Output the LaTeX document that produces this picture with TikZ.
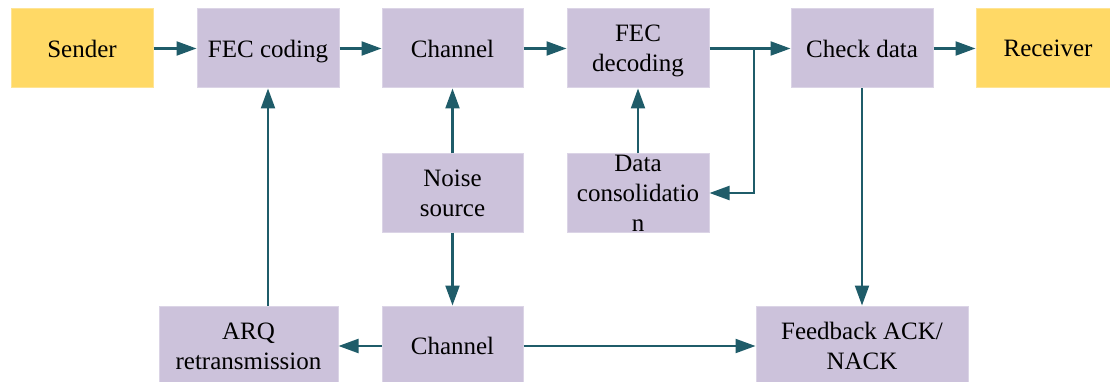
\documentclass[tikz,border=0pt]{standalone}
\usepackage{fontspec}
\setmainfont{Liberation Serif}
\usetikzlibrary{arrows.meta}
\definecolor{boxpurple}{HTML}{CCC2DB}
\definecolor{boxyellow}{HTML}{FFD966}
\definecolor{arrowteal}{HTML}{1F5C69}
\tikzset{
  basebox/.style={rectangle, inner sep=0pt, align=center,
    font=\fontsize{25}{30}\selectfont, text=black, line width=1pt,
    text depth=0pt},
  pbox/.style={basebox, fill=boxpurple, draw=boxpurple!70!white},
  ybox/.style={basebox, fill=boxyellow, draw=boxyellow!70!white},
  conn/.style={draw=arrowteal, line width=2.2pt,
    -{Triangle[length=20pt,width=14pt]}},
  plainconn/.style={draw=arrowteal, line width=2.2pt},
}
\begin{document}
\begin{tikzpicture}[x=1pt,y=-1pt]
\useasboundingbox (0,0) rectangle (1110,382);
% top row
\node[ybox, minimum width=142pt, minimum height=79pt] (sender) at (82,48.5) {Sender};
\node[pbox, minimum width=142pt, minimum height=79pt] (fec) at (268,48.5) {FEC coding};
\node[pbox, minimum width=141pt, minimum height=79pt] (ch1) at (452.5,48.5) {Channel};
\node[pbox, minimum width=142pt, minimum height=79pt] (dec) at (638,48.5) {FEC\\decoding};
\node[pbox, minimum width=142pt, minimum height=79pt] (check) at (862,48.5) {Check data};
\node[ybox, minimum width=144pt, minimum height=79pt] (recv) at (1048,48.5) {Receiver};
% middle row
\node[pbox, minimum width=141pt, minimum height=78pt] (noise) at (452.5,193) {Noise\\source};
\node[pbox, minimum width=142pt, minimum height=78pt] (dc) at (638,193) {};
\node[basebox] (dctext) at (638,193.5) {Data\\consolidatio\\n};
% bottom row
\node[pbox, minimum width=179pt, minimum height=80pt] (arq) at (248.5,346) {ARQ\\retransmission};
\node[pbox, minimum width=141pt, minimum height=80pt] (ch2) at (452.5,346) {Channel};
\node[pbox, minimum width=212pt, minimum height=80pt] (fb) at (862,346) {Feedback ACK/\\NACK};
% split point
\coordinate (split) at (754,48.5);
% connectors
\draw[conn] (sender) -- (fec);
\draw[conn] (fec) -- (ch1);
\draw[conn] (ch1) -- (dec);
\draw[plainconn] (dec.east) -- (split);
\draw[conn] (split) -- (check.west);
\draw[conn] (split) |- (dc.east);
\draw[conn] (dc.north) -- (dec.south);
\draw[conn] (check) -- (recv);
\draw[conn] (check.south) -- (fb.north);
\draw[conn] (noise.north) -- (ch1.south);
\draw[conn] (noise.south) -- (ch2.north);
\draw[conn] (ch2.west) -- (arq.east);
\draw[conn] (ch2.east) -- (fb.west);
\draw[conn] (arq.north -| fec.south) -- (fec.south);
\end{tikzpicture}
\end{document}
